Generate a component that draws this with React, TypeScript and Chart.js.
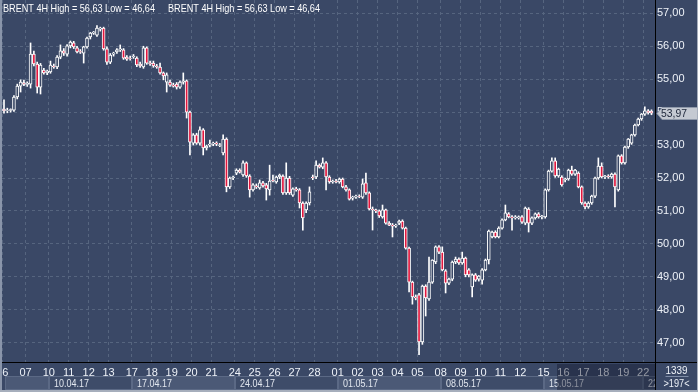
import React, { useEffect, useRef } from 'react';
import { Chart, registerables } from 'chart.js';

Chart.register(...registerables);

// ---- Data (BRENT 4H candles) ----
const opens = [
  54.09, 54.05, 54.05, 54.06, 54.46, 54.79, 54.90, 54.84, 54.85, 55.76, 55.46, 54.76, 55.28, 55.20, 55.22, 55.40, 55.37, 55.67, 55.86, 55.76,
  56.01, 56.10, 55.95, 55.84, 55.79, 55.98, 56.28, 56.40, 56.34, 56.52, 56.55, 55.92, 55.52, 55.76, 55.83, 55.89, 55.89, 55.67, 55.64, 55.68,
  55.64, 55.46, 55.37, 55.95, 55.49, 55.49, 55.40, 55.37, 55.19, 54.91, 54.91, 54.82, 54.85, 54.76, 54.91, 54.95, 54.00, 53.06, 53.31, 53.06,
  53.46, 52.91, 53.00, 53.03, 53.06, 52.99, 52.76, 53.18, 51.73, 52.00, 52.15, 52.24, 52.09, 52.46, 52.06, 51.64, 51.76, 51.70, 51.85, 51.79,
  51.64, 51.94, 51.88, 52.03, 52.06, 51.55, 52.00, 51.48, 51.67, 51.64, 51.24, 51.03, 51.24, 52.03, 52.03, 52.39, 52.33, 52.46, 52.03, 51.88,
  51.91, 51.88, 51.97, 51.73, 51.64, 51.39, 51.42, 51.45, 51.42, 51.85, 51.55, 51.06, 51.03, 51.00, 50.82, 51.03, 50.63, 50.57, 50.54, 50.63,
  50.69, 50.48, 49.87, 48.84, 48.39, 48.45, 47.02, 48.72, 48.33, 48.84, 49.45, 49.91, 49.75, 49.18, 48.81, 48.93, 49.45, 49.54, 49.42, 49.57,
  49.21, 48.69, 49.06, 48.93, 48.90, 49.21, 49.51, 50.21, 50.36, 50.21, 50.48, 50.73, 50.91, 50.82, 50.79, 50.79, 50.82, 50.63, 51.06, 50.63,
  50.79, 50.91, 50.82, 50.82, 51.64, 52.21, 52.52, 52.06, 52.03, 51.94, 51.97, 52.24, 52.12, 52.15, 51.73, 51.24, 51.12, 51.24, 51.45, 52.00,
  52.36, 52.03, 52.06, 52.03, 52.12, 51.64, 52.67, 52.46, 52.94, 53.06, 53.31, 53.61, 53.79, 53.94, 54.04, 54.03,
];
const highs = [
  54.37, 54.12, 54.10, 54.50, 54.85, 54.98, 54.97, 54.92, 56.10, 55.85, 55.52, 55.48, 55.33, 55.28, 55.55, 55.46, 55.72, 56.04, 55.93, 56.05,
  56.16, 56.15, 56.00, 55.90, 56.00, 56.28, 56.42, 56.45, 56.63, 56.58, 56.58, 55.98, 55.78, 55.82, 55.93, 56.04, 55.93, 55.72, 55.70, 55.75,
  55.68, 55.52, 56.00, 55.98, 55.55, 55.55, 55.45, 55.49, 55.22, 55.19, 54.97, 54.88, 54.90, 54.95, 55.19, 54.98, 54.03, 53.35, 53.36, 53.55,
  53.50, 53.00, 53.15, 53.09, 53.10, 53.05, 53.31, 53.22, 52.03, 52.06, 52.28, 52.28, 52.52, 52.49, 52.10, 51.83, 51.82, 51.94, 51.90, 51.84,
  52.39, 52.09, 52.06, 52.12, 52.10, 52.46, 52.05, 51.70, 51.72, 51.68, 51.28, 51.28, 51.73, 52.09, 52.52, 52.43, 52.61, 52.50, 52.07, 51.94,
  51.96, 52.00, 52.00, 51.78, 51.67, 51.45, 51.48, 51.49, 51.97, 52.15, 51.58, 51.12, 51.06, 51.03, 51.18, 51.06, 50.68, 50.62, 50.60, 50.72,
  50.73, 50.51, 49.90, 48.87, 48.45, 48.50, 48.75, 48.76, 49.60, 49.52, 49.94, 49.95, 49.91, 49.22, 48.96, 49.48, 49.60, 49.58, 49.75, 49.60,
  49.25, 49.09, 49.10, 49.04, 49.25, 49.54, 50.42, 50.39, 50.40, 50.52, 50.76, 51.18, 50.95, 50.86, 50.86, 50.85, 50.86, 51.12, 51.10, 50.82,
  50.94, 50.95, 50.87, 51.67, 52.24, 52.61, 52.61, 52.30, 52.07, 52.00, 52.27, 52.36, 52.26, 52.19, 51.76, 51.28, 51.28, 51.48, 52.03, 52.61,
  52.46, 52.08, 52.10, 52.15, 52.16, 52.70, 52.71, 52.97, 53.20, 53.33, 53.64, 53.82, 53.96, 54.16, 54.08, 54.07,
];
const lows = [
  53.97, 53.98, 54.00, 54.02, 54.40, 54.61, 54.80, 54.78, 54.73, 55.40, 54.58, 54.55, 55.15, 55.14, 55.18, 55.33, 55.32, 55.62, 55.72, 55.70,
  55.95, 55.93, 55.80, 55.78, 55.49, 55.94, 56.22, 56.36, 56.30, 56.46, 55.88, 55.45, 55.47, 55.70, 55.78, 55.84, 55.60, 55.57, 55.58, 55.63,
  55.38, 55.36, 55.33, 55.45, 55.42, 55.36, 55.33, 55.15, 54.98, 54.61, 54.78, 54.76, 54.70, 54.72, 54.85, 53.82, 52.70, 53.00, 53.02, 53.00,
  52.70, 52.85, 52.94, 52.98, 52.98, 52.95, 52.70, 51.58, 51.68, 51.95, 52.10, 52.15, 52.05, 52.02, 51.42, 51.60, 51.68, 51.66, 51.72, 51.33,
  51.48, 51.88, 51.84, 51.98, 51.50, 51.50, 51.50, 51.44, 51.60, 51.09, 50.42, 50.95, 51.18, 51.95, 51.98, 52.30, 52.28, 51.64, 51.84, 51.84,
  51.85, 51.84, 51.70, 51.60, 51.33, 51.33, 51.38, 51.40, 51.38, 51.50, 51.03, 50.42, 50.95, 50.80, 50.78, 50.60, 50.55, 50.21, 50.50, 50.58,
  50.45, 49.84, 48.54, 48.17, 48.30, 46.64, 46.95, 47.81, 48.28, 48.80, 49.40, 49.70, 49.18, 48.51, 48.76, 48.88, 49.40, 49.38, 49.38, 49.00,
  49.00, 48.39, 48.86, 48.87, 48.78, 49.18, 49.39, 50.18, 50.18, 50.18, 50.45, 50.70, 50.79, 50.42, 50.75, 50.75, 50.62, 50.58, 50.36, 50.58,
  50.75, 50.78, 50.76, 50.78, 51.60, 52.18, 52.02, 52.02, 51.75, 51.88, 51.93, 52.08, 52.08, 51.70, 51.20, 51.06, 51.08, 51.20, 51.40, 51.96,
  52.00, 51.98, 51.99, 51.99, 51.12, 51.60, 52.42, 52.42, 52.90, 53.02, 53.27, 53.58, 53.75, 53.90, 53.94, 53.92,
];
const closes = [
  54.04, 54.06, 54.08, 54.46, 54.79, 54.91, 54.84, 54.88, 55.76, 55.46, 54.76, 55.43, 55.19, 55.24, 55.43, 55.37, 55.67, 55.86, 55.79, 56.01,
  56.13, 55.98, 55.83, 55.82, 55.98, 56.25, 56.40, 56.43, 56.55, 56.55, 55.92, 55.52, 55.73, 55.79, 55.89, 55.92, 55.64, 55.61, 55.63, 55.70,
  55.43, 55.40, 55.95, 55.49, 55.46, 55.40, 55.37, 55.19, 55.10, 55.13, 54.82, 54.79, 54.76, 54.91, 54.95, 54.00, 53.09, 53.31, 53.06, 53.46,
  52.91, 52.97, 53.03, 53.06, 53.03, 53.01, 53.18, 51.73, 52.00, 52.03, 52.24, 52.18, 52.46, 52.06, 51.64, 51.79, 51.73, 51.85, 51.76, 51.67,
  51.91, 51.91, 52.03, 52.09, 51.55, 52.00, 51.55, 51.67, 51.64, 51.24, 50.79, 51.24, 51.58, 52.00, 52.39, 52.33, 52.46, 52.03, 51.88, 51.91,
  51.88, 51.97, 51.73, 51.64, 51.36, 51.42, 51.45, 51.44, 51.82, 51.55, 51.06, 51.03, 51.00, 50.85, 51.03, 50.63, 50.57, 50.54, 50.57, 50.69,
  50.48, 49.87, 48.84, 48.39, 48.36, 47.02, 48.72, 48.36, 48.84, 49.51, 49.91, 49.75, 49.21, 48.81, 48.93, 49.45, 49.54, 49.42, 49.57, 49.06,
  49.06, 49.06, 48.90, 49.02, 49.21, 49.51, 50.39, 50.36, 50.21, 50.48, 50.73, 50.94, 50.82, 50.79, 50.82, 50.82, 50.66, 51.09, 50.63, 50.79,
  50.91, 50.82, 50.84, 51.64, 52.21, 52.52, 52.06, 52.27, 51.79, 51.97, 52.24, 52.12, 52.24, 51.73, 51.24, 51.12, 51.24, 51.45, 52.00, 52.36,
  52.03, 52.06, 52.03, 52.12, 51.73, 52.67, 52.46, 52.94, 53.18, 53.31, 53.61, 53.79, 53.94, 54.04, 53.98, 53.97,
];

// Day ticks (first candle of each trading day)
const dayLabels = ['06', '07', '10', '11', '12', '13', '17', '18', '19', '20', '21', '24', '25', '26', '27', '28',
  '01', '02', '03', '04', '05', '08', '09', '10', '11', '12', '15', '16', '17', '18', '19', '22'];
const dayStartIdx = [0, 7, 14, 20, 26, 32, 39, 45, 51, 57, 63, 70, 76, 82, 88, 94,
  101, 107, 113, 119, 125, 132, 138, 144, 150, 156, 163, 169, 175, 181, 187, 193];
// Week ticks (first candle of each week)
const weekLabels = ['10.04.17', '17.04.17', '24.04.17', '01.05.17', '08.05.17', '15.05.17', '22.05.17'];
const weekStartIdx = [14, 39, 70, 101, 132, 163, 193];
const symbolName = 'BRENT 4H';
const barsTotalText = '1339';
const barsVisibleText = '>197<';

// ---- Styles ----
const FONT = '"Liberation Sans Narrow", "Liberation Sans", Arial, sans-serif';
const BG = '#3a4866';
const GRID = '#56657f';
const RED = '#e2173e';
const TEXT = '#eef2f8';
const X_MIN = -0.6;
const X_MAX = opens.length + 0.06;
const Y_MIN = 46.414;
const Y_MAX = 57.404;
const SHADE_FROM = 166.5;

const fmt = (v: number) => v.toFixed(2).replace('.', ',');

export default function App() {
  const ref = useRef<HTMLCanvasElement>(null);

  useEffect(() => {
    const canvas = ref.current;
    if (!canvas) return;
    const idx = opens.map((_, i) => i);
    const bodyData = idx.map((i) => ({ x: i, y: [Math.min(opens[i], closes[i]), Math.max(opens[i], closes[i])] }));
    const wickData = idx.map((i) => ({ x: i, y: [lows[i], highs[i]] }));
    const bodyColors = idx.map((i) => (closes[i] < opens[i] ? RED : BG));
    const hi = Math.max(...highs);
    const lo = Math.min(...lows);
    const title = `${symbolName} High = ${fmt(hi)} Low = ${fmt(lo)}`;

    const decor = {
      id: 'decor',
      beforeDraw(chart: any) {
        const { ctx, width, height } = chart;
        ctx.save();
        ctx.fillStyle = BG;
        ctx.fillRect(0, 0, width, height);
        ctx.restore();
      },
      afterDraw(chart: any) {
        const { ctx, chartArea: a, width, height } = chart;
        const xs = chart.scales.x;
        const ys = chart.scales.y;
        ctx.save();
        // week boxes
        const rowTop = 376;
        const rowBot = 390;
        ctx.save();
        ctx.beginPath();
        ctx.rect(0, a.bottom + 1, a.right, height - a.bottom - 1);
        ctx.clip();
        const edges = [a.left + 3, ...weekStartIdx.map((i) => Math.round(xs.getPixelForValue(i - 0.5))), a.right + 40];
        for (let k = 0; k < edges.length - 1; k++) {
          const x0 = edges[k];
          const x1 = edges[k + 1];
          ctx.fillStyle = k % 2 === 0 ? '#4b5976' : '#3e4c69';
          ctx.fillRect(x0, rowTop, x1 - x0, rowBot - rowTop);
          ctx.strokeStyle = '#5b6985';
          ctx.lineWidth = 1;
          ctx.strokeRect(x0 + 0.5, rowTop + 0.5, x1 - x0 - 1, rowBot - rowTop - 1);
          if (k >= 1) {
            ctx.fillStyle = '#e2e7ef';
            ctx.font = `11px ${FONT}`;
            ctx.textAlign = 'left';
            ctx.textBaseline = 'middle';
            ctx.fillText(weekLabels[k - 1], x0 + 5, 383.5, 35);
          }
        }
        // shaded tail region
        const sx = Math.round(xs.getPixelForValue(SHADE_FROM));
        ctx.fillStyle = 'rgba(18,24,42,0.42)';
        ctx.fillRect(sx, a.bottom + 2, a.right - sx, rowBot - a.bottom - 2);
        ctx.restore();

        // axis separator lines
        ctx.fillStyle = '#000000';
        ctx.fillRect(a.left, Math.round(a.bottom), width - a.left, 1);
        ctx.fillRect(Math.round(a.right), 0, 1, rowBot);

        // title
        ctx.font = `11px ${FONT}`;
        ctx.fillStyle = '#ffffff';
        ctx.textAlign = 'left';
        ctx.textBaseline = 'middle';
        ctx.fillText(title, 3, 8.5, 152);
        ctx.fillText(title, 168, 8.5, 152);

        // last price tag
        const last = closes[closes.length - 1];
        const py = Math.round(ys.getPixelForValue(last)) + 0.5;
        const tx = Math.round(a.right) + 2;
        ctx.beginPath();
        ctx.moveTo(tx, py);
        ctx.lineTo(tx + 5, py - 6);
        ctx.lineTo(width, py - 6);
        ctx.lineTo(width, py + 6);
        ctx.lineTo(tx + 5, py + 6);
        ctx.closePath();
        ctx.fillStyle = '#c4c9d2';
        ctx.fill();
        ctx.strokeStyle = '#8f99aa';
        ctx.lineWidth = 1;
        ctx.stroke();
        ctx.fillStyle = '#1c2539';
        ctx.textAlign = 'left';
        ctx.fillText(fmt(last), tx + 4, py, 26);

        // bottom-right counters
        const cx = (a.right + width) / 2;
        ctx.textAlign = 'center';
        ctx.fillStyle = TEXT;
        ctx.fillText(barsTotalText, cx, 371, 22);
        ctx.fillStyle = '#7e8ca6';
        ctx.fillRect(cx - 11, 376, 23, 1);
        ctx.fillStyle = TEXT;
        ctx.fillText(barsVisibleText, cx, 384, 26);

        // frame
        ctx.fillStyle = '#8a95aa';
        ctx.fillRect(0, 0, 2, height);
        ctx.fillStyle = '#a6aebc';
        ctx.fillRect(0, height - 2, width, 2);
        ctx.fillRect(width - 1, 0, 1, height);
        ctx.restore();
      },
    };

    const chart = new Chart(canvas, {
      type: 'bar',
      data: {
        datasets: [
          {
            label: 'body',
            data: bodyData as any,
            backgroundColor: bodyColors,
            borderColor: '#ffffff',
            borderWidth: 1,
            borderSkipped: false,
            barThickness: 3,
            grouped: false,
            order: 0,
          } as any,
          {
            label: 'wick',
            data: wickData as any,
            backgroundColor: '#ffffff',
            borderWidth: 0,
            barThickness: 1,
            grouped: false,
            order: 1,
          } as any,
        ],
      },
      options: {
        responsive: false,
        animation: false,
        devicePixelRatio: 1,
        events: [],
        layout: { padding: { left: 2, right: 0, top: 0, bottom: 0 } },
        plugins: { legend: { display: false }, tooltip: { enabled: false }, title: { display: false } },
        scales: {
          x: {
            type: 'linear',
            min: X_MIN,
            max: X_MAX,
            offset: false,
            grid: { offset: false, color: GRID, lineWidth: 1, drawTicks: false, tickLength: 0 },
            border: { display: false, dash: [3, 3] },
            afterBuildTicks: (s: any) => {
              s.ticks = dayStartIdx.map((i) => ({ value: i - 0.5 }));
            },
            ticks: {
              autoSkip: false,
              maxRotation: 0,
              minRotation: 0,
              padding: 4,
              color: TEXT,
              font: { family: FONT, size: 11 },
              callback: (_v: any, i: number) => dayLabels[i],
            },
            afterFit: (s: any) => {
              s.height = 30;
              s.paddingLeft = 0;
              s.paddingRight = 0;
            },
          } as any,
          y: {
            position: 'right',
            min: Y_MIN,
            max: Y_MAX,
            grid: { color: GRID, lineWidth: 1, drawTicks: false, tickLength: 0 },
            border: { display: false, dash: [3, 3] },
            ticks: {
              stepSize: 1,
              includeBounds: false,
              padding: 2,
              color: TEXT,
              font: { family: FONT, size: 11 },
              callback: (v: any) => fmt(Number(v)),
            },
            afterFit: (s: any) => {
              s.width = 43;
              s.paddingTop = 0;
              s.paddingBottom = 0;
            },
          } as any,
        },
      },
      plugins: [decor],
    });
    return () => chart.destroy();
  }, []);

  return (
    <div style={{ position: 'fixed', left: 0, top: 0, width: 698, height: 392 }}>
      <canvas ref={ref} width={698} height={392} style={{ display: 'block' }} />
    </div>
  );
}
